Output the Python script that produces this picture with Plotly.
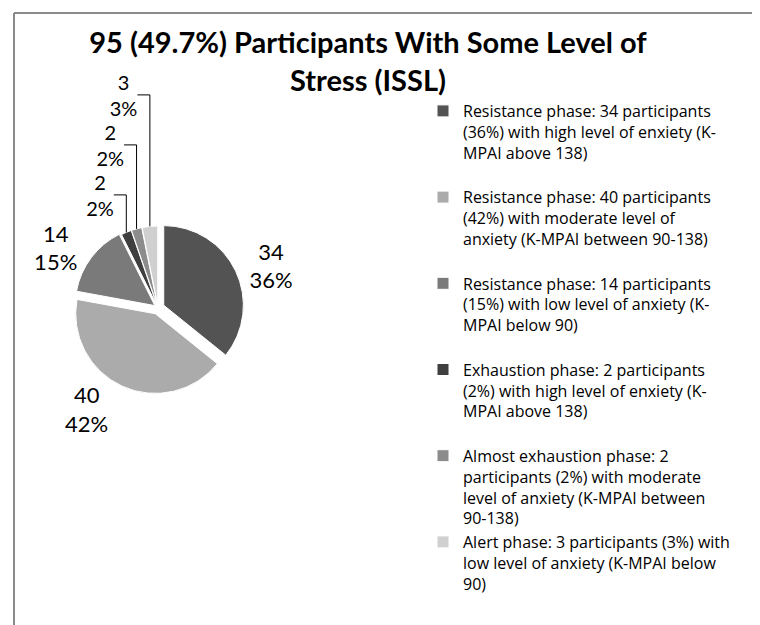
import plotly.graph_objects as go

# ---- data ----
legend_labels = [
    "Resistance phase: 34 participants<br>(36%) with high level of enxiety (K-<br>MPAI above 138)<br> ",
    "Resistance phase: 40 participants<br>(42%) with moderate level of<br>anxiety (K-MPAI between 90-138)<br> ",
    "Resistance phase: 14 participants<br>(15%) with low level of anxiety (K-<br>MPAI below 90)<br> ",
    "Exhaustion phase: 2 participants<br>(2%) with high level of enxiety (K-<br>MPAI above 138)<br> ",
    "Almost exhaustion phase: 2<br>participants (2%) with moderate<br>level of anxiety (K-MPAI between<br>90-138)",
    "Alert phase: 3 participants (3%) with<br>low level of anxiety (K-MPAI below<br>90)",
]
participants = [34, 40, 14, 2, 2, 3]
slice_colors = ["#535353", "#ababab", "#7a7a7a", "#3f3f3f", "#8c8c8c", "#d0d0d0"]
slice_pull = [0.08, 0.08, 0.05, 0.03, 0.03, 0.03]
label_sizes = [22, 22, 22, 20, 20, 20]
title_text = "95 (49.7%) Participants With Some Level of<br>Stress (ISSL)"

W, H = 760, 625
FONT = "Lato"
LEGEND_FONT = "Open Sans"

fig = go.Figure(
    go.Pie(
        labels=legend_labels,
        values=participants,
        sort=False,
        direction="clockwise",
        rotation=0,
        pull=slice_pull,
        marker=dict(colors=slice_colors, line=dict(color="#ffffff", width=1)),
        texttemplate="%{value}<br>%{percent:.0%}",
        textposition="outside",
        textfont=dict(family=FONT, size=label_sizes, color="#000000"),
        domain=dict(x=[64 / W, 236 / W], y=[1 - 386 / H, 1 - 214 / H]),
        hoverinfo="label+value+percent",
    )
)

border = dict(color="#8a8a8a", width=2)
fig.update_layout(
    width=W,
    height=H,
    margin=dict(l=0, r=0, t=0, b=0),
    paper_bgcolor="#ffffff",
    plot_bgcolor="#ffffff",
    font=dict(family=FONT, color="#000000"),
    title=dict(
        text="<b>" + title_text + "</b>",
        x=360 / W,
        xanchor="center",
        y=1 - 45 / H,
        yanchor="top",
        yref="container",
        font=dict(family=FONT, size=29, color="#000000"),
    ),
    legend=dict(
        x=415 / W,
        xanchor="left",
        y=1 - 86 / H,
        yanchor="top",
        valign="top",
        font=dict(family=LEGEND_FONT, size=16, color="#000000"),
        itemwidth=30,
        bgcolor="rgba(0,0,0,0)",
    ),
    showlegend=True,
    shapes=[
        dict(type="line", xref="paper", yref="paper",
             x0=6 / W, x1=6 / W, y0=0, y1=1 - 5 / H, line=border, layer="below"),
        dict(type="line", xref="paper", yref="paper",
             x0=6 / W, x1=1, y0=1 - 5 / H, y1=1 - 5 / H, line=border, layer="below"),
    ],
)

fig.write_html("out.html", config={"displayModeBar": False})
